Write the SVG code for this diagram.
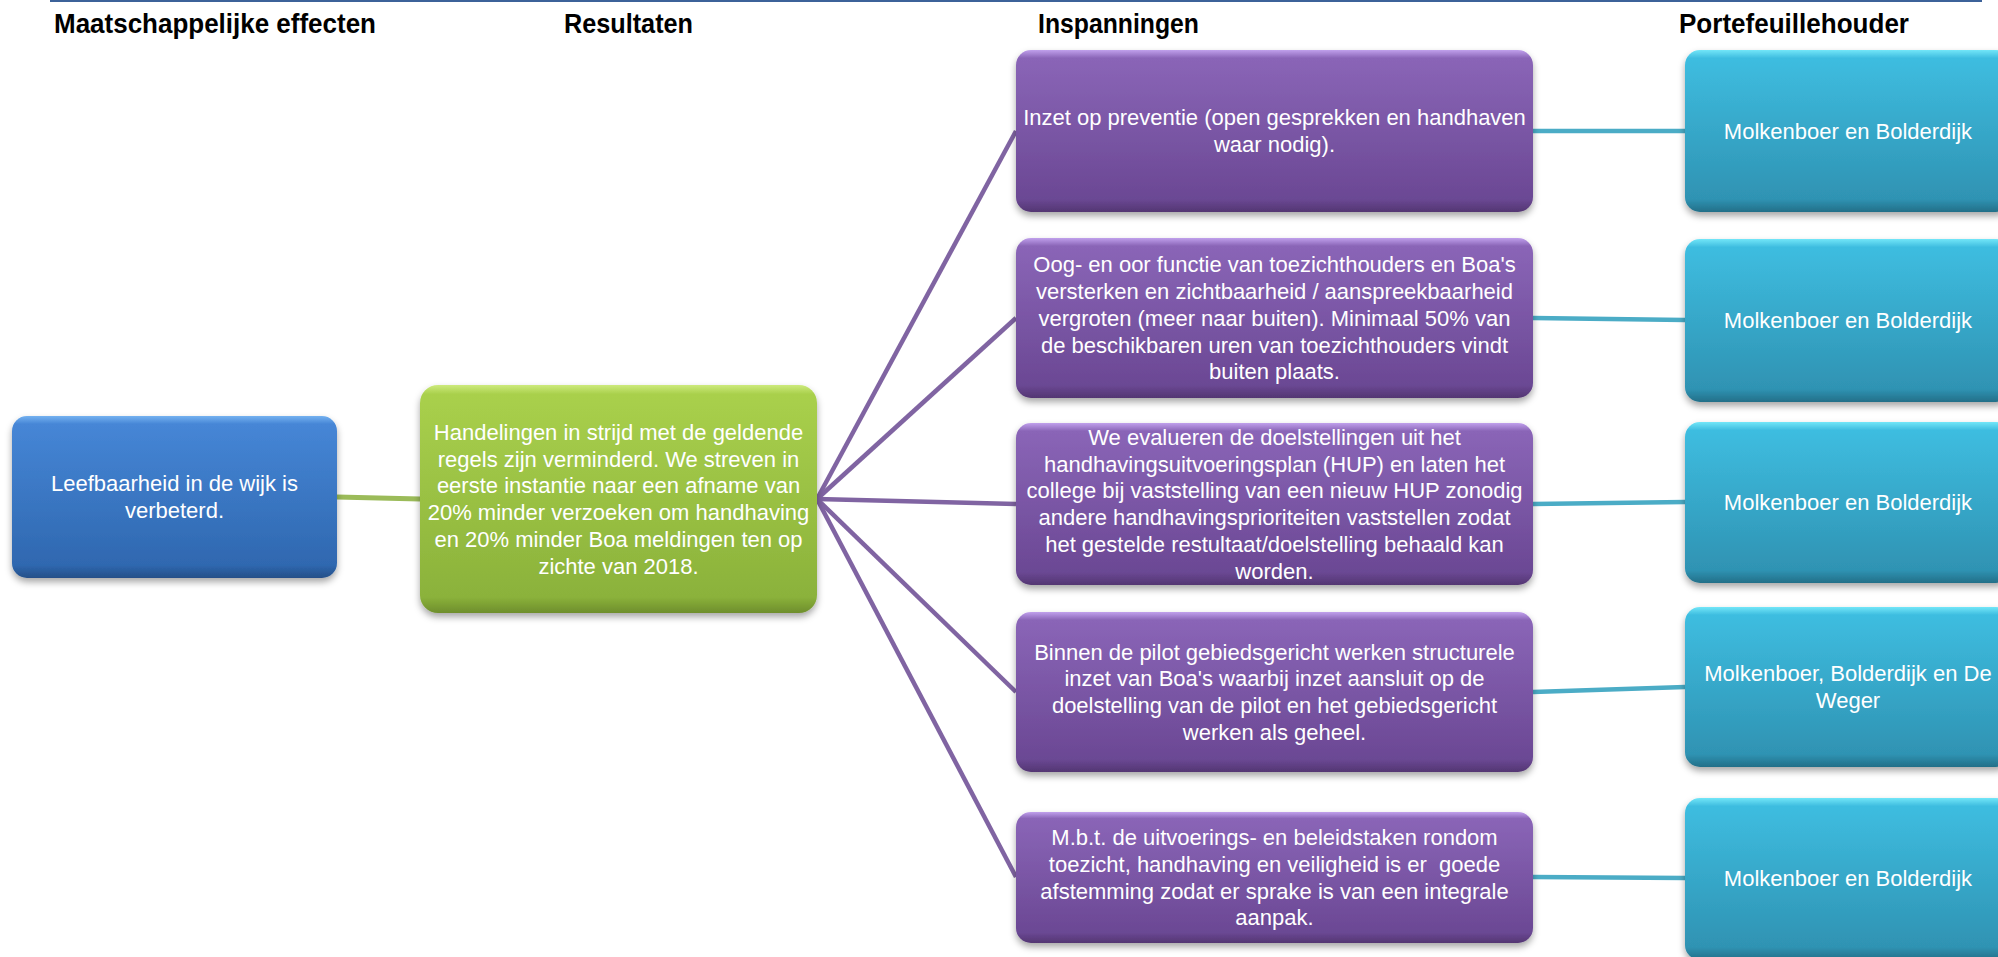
<svg xmlns="http://www.w3.org/2000/svg" width="1998" height="957" viewBox="0 0 1998 957">
<style>
.hdr{font-family:"Liberation Sans",Arial,sans-serif;font-weight:bold;font-size:27px;fill:#000}
.t{font-family:"Liberation Sans",Arial,sans-serif;font-size:22px;fill:#fff;text-anchor:middle;white-space:pre}
.box{filter:url(#sh)}
.cp{stroke:#8064a2;stroke-width:4.5;fill:none}
.cc{stroke:#4bacc6;stroke-width:4.5;fill:none}
.cg{stroke:#9bbb59;stroke-width:5;fill:none}
</style>
<defs>
<filter id="sh" x="-10%" y="-10%" width="120%" height="130%">
<feDropShadow dx="0" dy="4" stdDeviation="3.5" flood-color="#000" flood-opacity="0.35"/>
</filter>
<linearGradient id="gb" x1="0" y1="0" x2="0" y2="1">
<stop offset="0" stop-color="#74b1f0"/><stop offset="0.05" stop-color="#4686d6"/><stop offset="0.92" stop-color="#2f68b0"/><stop offset="1" stop-color="#254f88"/>
</linearGradient>
<linearGradient id="gg" x1="0" y1="0" x2="0" y2="1">
<stop offset="0" stop-color="#cdea7c"/><stop offset="0.04" stop-color="#a9d04c"/><stop offset="0.93" stop-color="#8bb23b"/><stop offset="1" stop-color="#6e8e2c"/>
</linearGradient>
<linearGradient id="gp" x1="0" y1="0" x2="0" y2="1">
<stop offset="0" stop-color="#c0a0ec"/><stop offset="0.05" stop-color="#8a65b7"/><stop offset="0.92" stop-color="#6b4894"/><stop offset="1" stop-color="#533672"/>
</linearGradient>
<linearGradient id="gc" x1="0" y1="0" x2="0" y2="1">
<stop offset="0" stop-color="#72e6f8"/><stop offset="0.05" stop-color="#3ebde0"/><stop offset="0.92" stop-color="#2f93b3"/><stop offset="1" stop-color="#236f88"/>
</linearGradient>
</defs>
<rect width="1998" height="957" fill="#fff"/>
<line x1="50" y1="1" x2="1982" y2="1" stroke="#3c6299" stroke-width="2"/>
<g id="headers">
<text class="hdr" x="54" y="33" textLength="322" lengthAdjust="spacingAndGlyphs">Maatschappelijke effecten</text>
<text class="hdr" x="564" y="33" textLength="129" lengthAdjust="spacingAndGlyphs">Resultaten</text>
<text class="hdr" x="1038" y="33" textLength="161" lengthAdjust="spacingAndGlyphs">Inspanningen</text>
<text class="hdr" x="1679" y="33" textLength="230" lengthAdjust="spacingAndGlyphs">Portefeuillehouder</text>
</g>
<g id="connectors">
<line class="cg" x1="337" y1="497" x2="420" y2="499"/>
<line class="cp" x1="817" y1="499" x2="1016" y2="131"/>
<line class="cp" x1="817" y1="499" x2="1016" y2="318"/>
<line class="cp" x1="817" y1="499" x2="1016" y2="504"/>
<line class="cp" x1="817" y1="499" x2="1016" y2="692"/>
<line class="cp" x1="817" y1="499" x2="1016" y2="877"/>
<line class="cc" x1="1533" y1="131" x2="1685" y2="131"/>
<line class="cc" x1="1533" y1="318" x2="1685" y2="320"/>
<line class="cc" x1="1533" y1="504" x2="1685" y2="502"/>
<line class="cc" x1="1533" y1="692" x2="1685" y2="687"/>
<line class="cc" x1="1533" y1="877" x2="1685" y2="878"/>
</g>
<g id="n-effect">
<rect class="box" x="12" y="416" width="325" height="162" rx="15" fill="url(#gb)"/>
<text class="t"><tspan x="174.5" y="491.3">Leefbaarheid in de wijk is</tspan><tspan x="174.5" y="518.1">verbeterd.</tspan></text>
</g>
<g id="n-resultaat">
<rect class="box" x="420" y="385" width="397" height="228" rx="18" fill="url(#gg)"/>
<text class="t"><tspan x="618.5" y="439.7">Handelingen in strijd met de geldende</tspan><tspan x="618.5" y="466.5">regels zijn verminderd. We streven in</tspan><tspan x="618.5" y="493.3">eerste instantie naar een afname van</tspan><tspan x="618.5" y="520.1">20% minder verzoeken om handhaving</tspan><tspan x="618.5" y="546.9">en 20% minder Boa meldingen ten op</tspan><tspan x="618.5" y="573.7">zichte van 2018.</tspan></text>
</g>
<g id="n-insp1">
<rect class="box" x="1016" y="50" width="517" height="162" rx="15" fill="url(#gp)"/>
<text class="t"><tspan x="1274.5" y="125.3">Inzet op preventie (open gesprekken en handhaven</tspan><tspan x="1274.5" y="152.1">waar nodig).</tspan></text>
</g>
<g id="n-insp2">
<rect class="box" x="1016" y="238" width="517" height="160" rx="15" fill="url(#gp)"/>
<text class="t"><tspan x="1274.5" y="272.1">Oog- en oor functie van toezichthouders en Boa's</tspan><tspan x="1274.5" y="298.9">versterken en zichtbaarheid / aanspreekbaarheid</tspan><tspan x="1274.5" y="325.7">vergroten (meer naar buiten). Minimaal 50% van</tspan><tspan x="1274.5" y="352.5">de beschikbaren uren van toezichthouders vindt</tspan><tspan x="1274.5" y="379.3">buiten plaats.</tspan></text>
</g>
<g id="n-insp3">
<rect class="box" x="1016" y="423" width="517" height="162" rx="15" fill="url(#gp)"/>
<text class="t"><tspan x="1274.5" y="444.7">We evalueren de doelstellingen uit het</tspan><tspan x="1274.5" y="471.5">handhavingsuitvoeringsplan (HUP) en laten het</tspan><tspan x="1274.5" y="498.3">college bij vaststelling van een nieuw HUP zonodig</tspan><tspan x="1274.5" y="525.1">andere handhavingsprioriteiten vaststellen zodat</tspan><tspan x="1274.5" y="551.9">het gestelde restultaat/doelstelling behaald kan</tspan><tspan x="1274.5" y="578.7">worden.</tspan></text>
</g>
<g id="n-insp4">
<rect class="box" x="1016" y="612" width="517" height="160" rx="15" fill="url(#gp)"/>
<text class="t"><tspan x="1274.5" y="659.5">Binnen de pilot gebiedsgericht werken structurele</tspan><tspan x="1274.5" y="686.3">inzet van Boa's waarbij inzet aansluit op de</tspan><tspan x="1274.5" y="713.1">doelstelling van de pilot en het gebiedsgericht</tspan><tspan x="1274.5" y="739.9">werken als geheel.</tspan></text>
</g>
<g id="n-insp5">
<rect class="box" x="1016" y="812" width="517" height="131" rx="15" fill="url(#gp)"/>
<text class="t"><tspan x="1274.5" y="845">M.b.t. de uitvoerings- en beleidstaken rondom</tspan><tspan x="1274.5" y="871.8">toezicht, handhaving en veiligheid is er  goede</tspan><tspan x="1274.5" y="898.6">afstemming zodat er sprake is van een integrale</tspan><tspan x="1274.5" y="925.4">aanpak.</tspan></text>
</g>
<g id="n-port1">
<rect class="box" x="1685" y="50" width="326" height="162" rx="15" fill="url(#gc)"/>
<text class="t" x="1848" y="138.7">Molkenboer en Bolderdijk</text>
</g>
<g id="n-port2">
<rect class="box" x="1685" y="239" width="326" height="163" rx="15" fill="url(#gc)"/>
<text class="t" x="1848" y="328.2">Molkenboer en Bolderdijk</text>
</g>
<g id="n-port3">
<rect class="box" x="1685" y="422" width="326" height="161" rx="15" fill="url(#gc)"/>
<text class="t" x="1848" y="510.2">Molkenboer en Bolderdijk</text>
</g>
<g id="n-port4">
<rect class="box" x="1685" y="607" width="326" height="160" rx="15" fill="url(#gc)"/>
<text class="t"><tspan x="1848" y="681.3">Molkenboer, Bolderdijk en De</tspan><tspan x="1848" y="708.1">Weger</tspan></text>
</g>
<g id="n-port5">
<rect class="box" x="1685" y="798" width="326" height="162" rx="15" fill="url(#gc)"/>
<text class="t" x="1848" y="885.7">Molkenboer en Bolderdijk</text>
</g>
</svg>
